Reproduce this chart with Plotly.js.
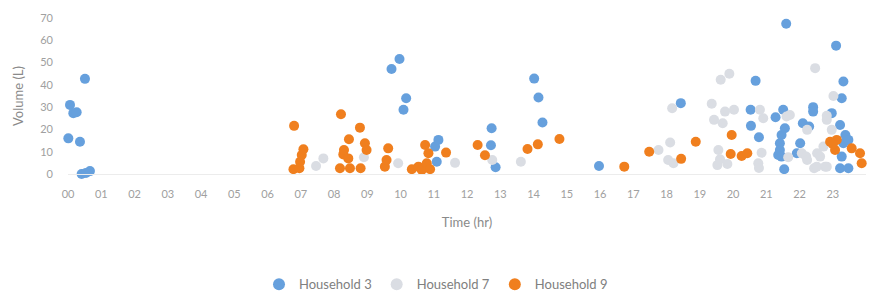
<!DOCTYPE html>
<html>
<head>
<meta charset="utf-8">
<script src="https://cdn.plot.ly/plotly-3.0.1.min.js"></script>
<style>html,body{margin:0;padding:0;background:#fff;}#chart{width:872px;height:293px;}</style>
</head>
<body>
<div id="chart"></div>
<script>
// Time of day in hours (0-24) and volume in litres
const h3Time = [0.01,0.06,0.16,0.26,0.36,0.51,0.41,0.54,0.66,
  9.73,9.97,10.09,10.17,11.04,11.09,11.14,
  12.72,12.74,12.86,14.02,14.15,14.27,15.97,18.43,
  20.53,20.54,20.68,20.78,21.28,21.36,21.41,21.41,21.46,21.46,21.51,21.54,21.56,21.6,
  21.92,22.02,22.1,22.29,22.41,22.41,22.97,23.1,23.22,23.27,23.32,23.38,23.32,23.27,23.22,23.47,23.47];
const h3Vol = [16,31,27.3,27.7,14.5,42.7,0,0.5,1.3,
  47.1,51.6,28.8,34,12.3,5.5,15.3,
  12.9,20.5,3,42.8,34.3,23.1,3.6,31.8,
  28.8,21.6,41.8,16.5,25.5,8.5,13.8,10.8,17.5,7.8,28.8,2.1,20.5,67.4,
  9.3,13.8,22.8,21.3,30,28,27.3,57.6,22,34,41.5,17.5,13.8,7.8,2.6,2.6,15.3];

const h7Time = [7.46,7.68,8.9,9.93,11.64,12.76,13.62,
  17.76,18.05,18.11,18.17,18.21,
  19.36,19.43,19.53,19.56,19.61,19.63,19.69,19.76,19.83,19.89,20.03,
  20.76,20.78,20.81,20.86,20.91,21.61,21.66,21.71,
  22.07,22.2,22.23,22.23,22.44,22.47,22.53,22.62,22.72,22.77,22.82,22.82,22.97,23.02,22.52,22.82];
const h7Vol = [3.6,7,7.5,4.8,5,6.3,5.5,
  10.8,6.3,14.1,29.5,4.8,
  31.5,24.3,4,10.8,6.6,42.3,22.8,28,4.5,45,28.8,
  4.8,2.7,28.8,9.5,25,25.8,7.5,26.5,
  9.3,7.8,19.8,6.3,2.6,47.5,9.3,7.8,12.3,3.3,24.3,26.1,19.8,35,3.3,3.3];

const h9Time = [6.78,6.8,6.96,6.98,7.03,7.08,
  8.18,8.21,8.28,8.3,8.43,8.45,8.48,8.8,8.78,8.93,8.98,
  9.53,9.58,9.63,
  10.34,10.54,10.64,10.74,10.79,10.84,10.89,11.37,
  12.32,12.54,13.82,14.13,14.78,16.73,17.48,18.44,18.88,
  19.96,19.93,20.26,20.43,
  22.92,23.12,23.07,23.0,23.57,23.82,23.87];
const h9Vol = [2.1,21.6,2.6,5.5,8.5,11.1,
  2.6,26.8,8.8,10.8,7,15.6,2.6,2.6,20.8,13.8,10.8,
  3.3,6.3,11.5,
  2.1,3.3,1.8,13,4.8,9.3,2.1,9.6,
  13,8.4,11.2,13.3,15.7,3.3,10,6.8,14.5,
  17.5,9,8.1,9.3,
  14.5,15.3,10.8,13.5,11.5,9.3,4.8];

const tickVals = [0,1,2,3,4,5,6,7,8,9,10,11,12,13,14,15,16,17,18,19,20,21,22,23,24];
const tickText = ['00','01','02','03','04','05','06','07','08','09','10','11','12','13','14','15','16','17','18','19','20','21','22','23','00'];
const seriesNames = ['Household 3','Household 7','Household 9'];

const colors = ['#66A0DD','#DADDE3','#F07F1E'];
const FONT = 'Lato, "Open Sans", sans-serif';

function tr(x, y, i) {
  return {x: x, y: y, type: 'scatter', mode: 'markers', name: seriesNames[i],
    marker: {color: colors[i], size: 10, line: {width: 0}}, cliponaxis: false};
}

const data = [tr(h3Time, h3Vol, 0), tr(h7Time, h7Vol, 1), tr(h9Time, h9Vol, 2)];

const layout = {
  width: 872, height: 293,
  margin: {l: 68, r: 6, t: 18, b: 119},
  paper_bgcolor: '#fff', plot_bgcolor: '#fff',
  font: {family: FONT, color: '#9a9a9a', size: 11},
  showlegend: true,
  legend: {orientation: 'h', xref: 'container', yref: 'container', x: 0.5, xanchor: 'center',
    y: 0.03, yanchor: 'middle', font: {size: 13, color: '#808080'}, itemsizing: 'constant'},
  xaxis: {range: [0, 24], tickvals: tickVals, ticktext: tickText, showgrid: false, zeroline: false,
    showline: true, linecolor: '#ececec', linewidth: 1, ticks: '', ticklabelstandoff: 10,
    tickfont: {size: 11, color: '#a0a0a0'},
    title: {text: 'Time (hr)', font: {size: 13, color: '#8a8a8a'}, standoff: 18}, automargin: false},
  yaxis: {range: [0, 70], dtick: 10, showgrid: false, zeroline: false, showline: false, ticks: '',
    ticklabelstandoff: 14, tickfont: {size: 11, color: '#a0a0a0'},
    title: {text: 'Volume (L)', font: {size: 13, color: '#8a8a8a'}, standoff: 13}, automargin: false}
};

Plotly.newPlot('chart', data, layout, {displayModeBar: false, staticPlot: true});
</script>
</body>
</html>
